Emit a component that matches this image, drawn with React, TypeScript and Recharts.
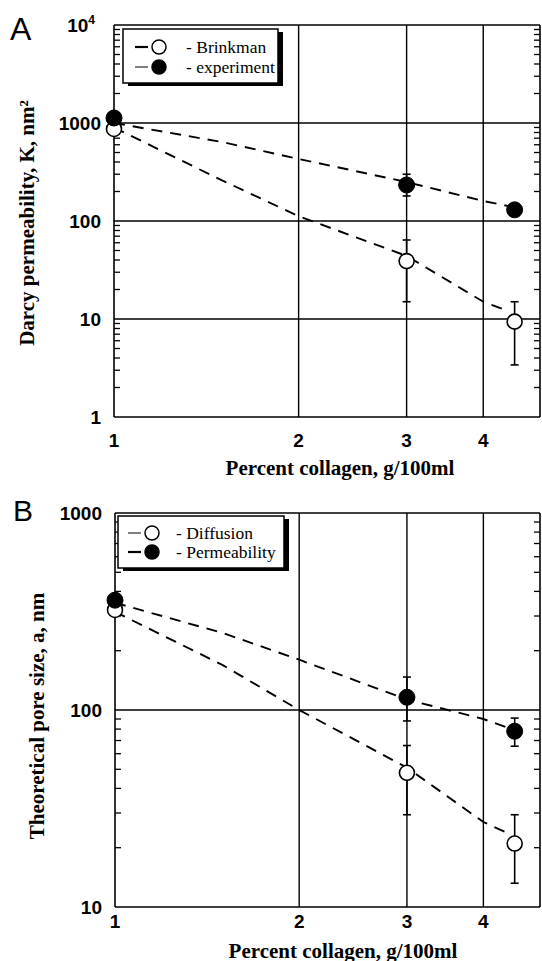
import React from 'react'
import { ComposedChart, XAxis, YAxis, Line, Scatter, ErrorBar, ReferenceLine } from 'recharts'

const SANS = '"Liberation Sans", Arial, sans-serif'
const SERIF = '"Liberation Serif", "Times New Roman", serif'
const INK = '#000'

// --- shared x positions (percent collagen) ---
const COLLAGEN = [1, 3, 4.5]
const FIT_X = [1, 1.5, 2, 3, 4, 4.4]
const X_TICKS = [1, 2, 3, 4]
const X_MAX = 4.95
const MINOR_STEPS = [2, 3, 4, 5, 6, 7, 8, 9]

// --- panel A: Darcy permeability, K (nm^2) ---
const brinkmanK = [870, 39, 9.4]
const brinkmanLo = [870, 15, 3.4]
const brinkmanHi = [870, 64, 15]
const experimentK = [1125, 233, 130]
const experimentLo = [1125, 180, 130]
const experimentHi = [1125, 300, 130]
const brinkmanFit = [900, 260, 112, 44, 15, 12]
const experimentFit = [1000, 640, 430, 250, 160, 142]
const A_DECADES = [1, 10, 100, 1000, 10000]
const A_GRID = [10, 100, 1000]

// --- panel B: theoretical pore size, a (nm) ---
const diffusionA = [322, 48, 21]
const diffusionLo = [322, 29.4, 13.2]
const diffusionHi = [322, 66, 29.4]
const permeabilityA = [361, 116, 78]
const permeabilityLo = [361, 88, 65.5]
const permeabilityHi = [361, 147, 91]
const diffusionFit = [315, 169, 100, 51, 27, 23.6]
const permeabilityFit = [350, 246, 180, 113, 90, 81]
const B_DECADES = [10, 100, 1000]
const B_GRID = [100]

type Pt = { x: number; y: number; err?: number[] }

const withErrors = (ys: number[], lo: number[], hi: number[]): Pt[] =>
  COLLAGEN.map((x, i) => ({ x, y: ys[i], err: [ys[i] - lo[i], hi[i] - ys[i]] }))
const fitLine = (ys: number[]): Pt[] => FIT_X.map((x, i) => ({ x, y: ys[i] }))

// minor ticks 2..9 inside every decade, placed on an axis edge
const minorsAt = (decades: number[], x: number): Pt[] =>
  decades.slice(0, -1).flatMap((d) => MINOR_STEPS.map((m) => ({ x, y: m * d })))

const tickFont = { fontFamily: SANS, fontWeight: 700, fontSize: 19, fill: INK }

const openDot = (p: any) => <circle cx={p.cx} cy={p.cy} r={7.5} fill="#fff" stroke={INK} strokeWidth={1.6} />
const filledDot = (p: any) => <circle cx={p.cx} cy={p.cy} r={8} fill={INK} stroke={INK} />
const leftMinor = (p: any) => <line x1={p.cx} x2={p.cx + 6} y1={p.cy} y2={p.cy} stroke={INK} strokeWidth={1.3} />
const rightMinor = (p: any) => <line x1={p.cx - 6} x2={p.cx} y1={p.cy} y2={p.cy} stroke={INK} strokeWidth={1.3} />

type PanelProps = {
  height: number
  marginTop: number
  axisWidth: number
  xAxisHeight: number
  xLabelDy: number
  decades: number[]
  grid: number[]
  open: Pt[]
  filled: Pt[]
  openFit: Pt[]
  filledFit: Pt[]
}

function Panel(p: PanelProps) {
  const domain = [p.decades[0], p.decades[p.decades.length - 1]]

  const leftTick = ({ x, y, payload }: any) => {
    const v = payload.value
    if (v === 10000)
      return (
        <g>
          <text x={x - 19} y={y} dy="0.35em" textAnchor="end" {...tickFont}>
            10<tspan dy={-8} fontSize={12}>4</tspan>
          </text>
        </g>
      )
    return (
      <g>
        <text x={x - 13} y={y} dy="0.35em" textAnchor="end" {...tickFont}>
          {String(v)}
        </text>
      </g>
    )
  }
  const bottomTick = ({ x, y, payload }: any) => (
    <g>
      <text x={x} y={y + p.xLabelDy} textAnchor="middle" {...tickFont}>
        {String(payload.value)}
      </text>
    </g>
  )

  const axisLine = { stroke: INK, strokeWidth: 1.6 }

  return (
    <ComposedChart width={542} height={p.height} margin={{ top: p.marginTop, right: 0, bottom: 0, left: 0 }}>
      <XAxis
        dataKey="x" type="number" scale="log" domain={[1, X_MAX]} ticks={X_TICKS} interval={0}
        tickSize={0} tickMargin={0} tick={bottomTick} height={p.xAxisHeight} axisLine={axisLine}
      />
      <YAxis
        yAxisId="L" type="number" scale="log" domain={domain} ticks={p.decades} interval={0}
        tickSize={0} tickMargin={0} tick={leftTick} width={p.axisWidth} axisLine={axisLine}
      />
      <YAxis
        yAxisId="R" orientation="right" type="number" scale="log" domain={domain}
        tick={false} tickLine={false} width={2} axisLine={axisLine}
      />
      {X_TICKS.slice(1).map((v) => (
        <ReferenceLine key={`x${v}`} yAxisId="L" x={v} stroke={INK} strokeWidth={1.4} />
      ))}
      {p.grid.map((v) => (
        <ReferenceLine key={`y${v}`} yAxisId="L" y={v} stroke={INK} strokeWidth={1.4} />
      ))}
      <ReferenceLine yAxisId="L" y={domain[1]} stroke={INK} strokeWidth={1.6} />
      <Scatter yAxisId="L" data={minorsAt(p.decades, 1)} dataKey="y" shape={leftMinor} isAnimationActive={false} />
      <Scatter yAxisId="L" data={minorsAt(p.decades, X_MAX)} dataKey="y" shape={rightMinor} isAnimationActive={false} />
      <Line yAxisId="L" data={p.openFit} dataKey="y" type="linear" stroke={INK} strokeWidth={1.9}
        strokeDasharray="11 8" dot={false} activeDot={false} isAnimationActive={false} />
      <Line yAxisId="L" data={p.filledFit} dataKey="y" type="linear" stroke={INK} strokeWidth={1.9}
        strokeDasharray="11 8" dot={false} activeDot={false} isAnimationActive={false} />
      <Scatter yAxisId="L" data={p.open} dataKey="y" shape={openDot} isAnimationActive={false}>
        <ErrorBar dataKey="err" direction="y" width={4} stroke={INK} strokeWidth={1.6} />
      </Scatter>
      <Scatter yAxisId="L" data={p.filled} dataKey="y" shape={filledDot} isAnimationActive={false}>
        <ErrorBar dataKey="err" direction="y" width={4} stroke={INK} strokeWidth={1.6} />
      </Scatter>
    </ComposedChart>
  )
}

// legend box with a hard drop shadow, drawn over the plot
function LegendBox({ x, y, w, h, labels, cx, tx, rows, thick }: any) {
  return (
    <g>
      <rect x={x + 5} y={y + 3} width={w} height={h} fill={INK} />
      <rect x={x} y={y} width={w} height={h} fill="#fff" stroke={INK} strokeWidth={1.5} />
      {labels.map((name: string, i: number) => (
        <g key={name}>
          <line x1={cx - 24} x2={cx - 11} y1={rows[i]} y2={rows[i]} stroke={INK} strokeWidth={thick[i] ? 2.2 : 1} />
          <circle cx={cx} cy={rows[i]} r={7} fill={i === 0 ? '#fff' : INK} stroke={INK} strokeWidth={1.5} />
          <text x={tx} y={rows[i]} dy="0.33em" fontFamily={SERIF} fontSize={17.5} fill={INK}>
            - {name}
          </text>
        </g>
      ))}
    </g>
  )
}

const LEGEND_A = ['Brinkman', 'experiment']
const LEGEND_B = ['Diffusion', 'Permeability']

const titleFont = { fontFamily: SERIF, fontWeight: 700, fontSize: 21, fill: INK }

export default function App() {
  return (
    <div style={{ position: 'absolute', left: 0, top: 0, width: 542, height: 961, background: '#fff', overflow: 'hidden' }}>
      <div style={{ position: 'absolute', left: 0, top: 0 }}>
        <Panel
          height={480} marginTop={25} axisWidth={114} xAxisHeight={63} xLabelDy={30}
          decades={A_DECADES} grid={A_GRID}
          open={withErrors(brinkmanK, brinkmanLo, brinkmanHi)}
          filled={withErrors(experimentK, experimentLo, experimentHi)}
          openFit={fitLine(brinkmanFit)} filledFit={fitLine(experimentFit)}
        />
      </div>
      <div style={{ position: 'absolute', left: 0, top: 480 }}>
        <Panel
          height={481} marginTop={33} axisWidth={115} xAxisHeight={54} xLabelDy={21}
          decades={B_DECADES} grid={B_GRID}
          open={withErrors(diffusionA, diffusionLo, diffusionHi)}
          filled={withErrors(permeabilityA, permeabilityLo, permeabilityHi)}
          openFit={fitLine(diffusionFit)} filledFit={fitLine(permeabilityFit)}
        />
      </div>
      <svg width={542} height={961} style={{ position: 'absolute', left: 0, top: 0, pointerEvents: 'none' }}>
        <text x={10} y={40} fontFamily={SANS} fontSize={32} fill={INK}>A</text>
        <text x={13} y={521} fontFamily={SANS} fontSize={30} fill={INK}>B</text>
        <text x={340} y={475} textAnchor="middle" {...titleFont}>Percent collagen, g/100ml</text>
        <text x={343} y={958} textAnchor="middle" {...titleFont}>Percent collagen, g/100ml</text>
        <text x={34} y={223} transform="rotate(-90 34 223)" textAnchor="middle" {...titleFont}>
          Darcy permeability, K, nm²
        </text>
        <text x={44} y={716} transform="rotate(-90 44 716)" textAnchor="middle" {...titleFont}>
          Theoretical pore size, a, nm
        </text>
        <LegendBox x={123} y={29} w={155} h={54} labels={LEGEND_A} cx={159} tx={186} rows={[47, 67]} thick={[true, false]} />
        <LegendBox x={118} y={516} w={166} h={52} labels={LEGEND_B} cx={152} tx={176} rows={[533, 552]} thick={[false, true]} />
      </svg>
    </div>
  )
}
